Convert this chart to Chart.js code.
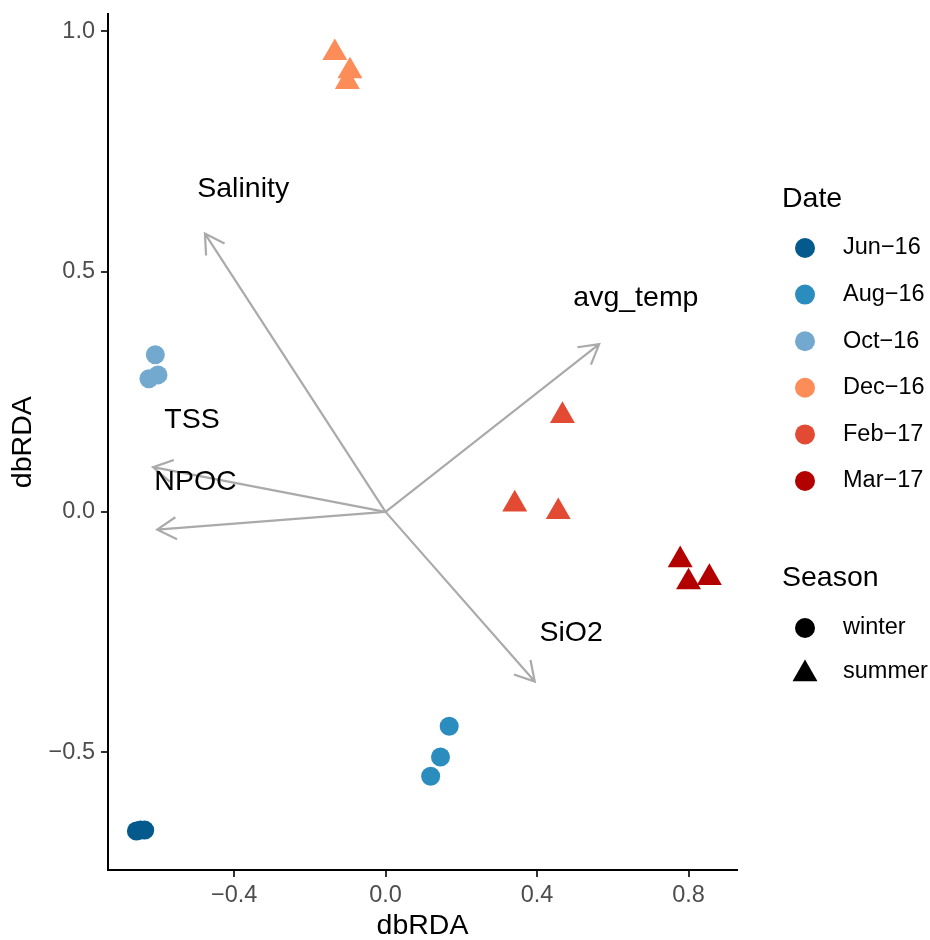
<!DOCTYPE html>
<html>
<head>
<meta charset="utf-8">
<script src="https://cdn.jsdelivr.net/npm/chart.js@4.4.0/dist/chart.umd.min.js"></script>
<style>
  body { margin: 0; background: #fff; }
  #wrap { width: 930px; height: 940px; }
</style>
</head>
<body>
<div id="wrap"><canvas id="rdaChart" width="930" height="940"></canvas></div>
<script>
// --- DATA ---

const dateLabels = ['Jun−16', 'Aug−16', 'Oct−16', 'Dec−16', 'Feb−17', 'Mar−17'];
const dateSeason = ['winter', 'winter', 'winter', 'summer', 'summer', 'summer'];
const dateColors = ['#045a8d', '#2b8cbe', '#74a9cf', '#fc8d59', '#e34a33', '#b30000'];

// site scores, one list per date
const scoreX = [
    [-0.658, -0.647, -0.636],
    [0.168, 0.145, 0.119],
    [-0.608, -0.601, -0.625],
    [-0.134, -0.094, -0.101],
    [0.467, 0.341, 0.456],
    [0.778, 0.800, 0.855]
];
const scoreY = [
    [-0.664, -0.662, -0.662],
    [-0.446, -0.510, -0.550],
    [0.327, 0.285, 0.277],
    [0.955, 0.917, 0.895],
    [0.200, 0.016, 0.000],
    [-0.100, -0.146, -0.137]
];

// environmental vectors (biplot arrows) and where their labels sit
const vectorNames = ['Salinity', 'avg_temp', 'TSS', 'NPOC', 'SiO2'];
const vectorX = [-0.477, 0.564, -0.614, -0.603, 0.394];
const vectorY = [0.579, 0.349, 0.093, -0.037, -0.353];
const labelX = [-0.376, 0.661, -0.511, -0.502, 0.490];
const labelY = [0.672, 0.444, 0.190, 0.062, -0.252];

const xTicks = [-0.4, 0.0, 0.4, 0.8];
const yTicks = [-0.5, 0.0, 0.5, 1.0];

// --- HELPERS ---

const fontFamily = '"Liberation Sans", Arial, Helvetica, sans-serif';

function fmtTick(v) {
    return v.toFixed(1).replace('-', '\u2212');
}

function pointStyleFor(season) {
    return season === 'summer' ? 'triangle' : 'circle';
}

function radiusFor(season) {
    return season === 'summer' ? 14.4 : 9.5;
}

// Arrows from the origin plus their text labels
const biplotArrows = {
    id: 'biplotArrows',
    beforeDatasetsDraw(chart) {
        const ctx = chart.ctx;
        const xs = chart.scales.x, ys = chart.scales.y;
        const x0 = xs.getPixelForValue(0), y0 = ys.getPixelForValue(0);
        const headLen = 22, headAng = Math.PI / 6;
        ctx.save();
        ctx.strokeStyle = '#aaaaaa';
        ctx.lineWidth = 2.2;
        ctx.lineCap = 'butt';
        vectorNames.forEach((name, i) => {
            const x1 = xs.getPixelForValue(vectorX[i]);
            const y1 = ys.getPixelForValue(vectorY[i]);
            const ang = Math.atan2(y1 - y0, x1 - x0);
            ctx.beginPath();
            ctx.moveTo(x0, y0);
            ctx.lineTo(x1, y1);
            ctx.moveTo(x1 - headLen * Math.cos(ang - headAng), y1 - headLen * Math.sin(ang - headAng));
            ctx.lineTo(x1, y1);
            ctx.lineTo(x1 - headLen * Math.cos(ang + headAng), y1 - headLen * Math.sin(ang + headAng));
            ctx.stroke();
        });
        ctx.fillStyle = '#000';
        ctx.font = '28.5px ' + fontFamily;
        ctx.textAlign = 'center';
        ctx.textBaseline = 'middle';
        vectorNames.forEach((name, i) => {
            ctx.fillText(name, xs.getPixelForValue(labelX[i]), ys.getPixelForValue(labelY[i]));
        });
        ctx.restore();
    }
};

// Two ggplot-style legend blocks on the right
const sideLegend = {
    id: 'sideLegend',
    afterDraw(chart) {
        const ctx = chart.ctx;
        const keyX = 805, textX = 843;
        ctx.save();
        ctx.textAlign = 'left';
        ctx.textBaseline = 'middle';

        ctx.fillStyle = '#000';
        ctx.font = '28.5px ' + fontFamily;
        ctx.fillText('Date', 782, 199);
        dateLabels.forEach((lab, i) => {
            const y = 248 + i * 46.6;
            ctx.fillStyle = dateColors[i];
            ctx.beginPath();
            ctx.arc(keyX, y, 10, 0, Math.PI * 2);
            ctx.fill();
            ctx.fillStyle = '#000';
            ctx.font = '23.5px ' + fontFamily;
            ctx.fillText(lab, textX, y);
        });

        ctx.font = '28.5px ' + fontFamily;
        ctx.fillText('Season', 782, 578);
        ctx.font = '23.5px ' + fontFamily;
        // winter
        ctx.beginPath();
        ctx.arc(keyX, 628, 10, 0, Math.PI * 2);
        ctx.fill();
        ctx.fillText('winter', textX, 628);
        // summer
        const r = 14.4, ty = 674;
        ctx.beginPath();
        ctx.moveTo(keyX, ty - r);
        ctx.lineTo(keyX + r * Math.sin(2 * Math.PI / 3), ty + r / 2);
        ctx.lineTo(keyX - r * Math.sin(2 * Math.PI / 3), ty + r / 2);
        ctx.closePath();
        ctx.fill();
        ctx.fillText('summer', textX, 672);
        ctx.restore();
    }
};

// --- CHART ---

const datasets = dateLabels.map((lab, i) => ({
    label: lab,
    data: scoreX[i].map((x, j) => ({ x: x, y: scoreY[i][j] })),
    pointStyle: pointStyleFor(dateSeason[i]),
    pointRadius: radiusFor(dateSeason[i]),
    pointHoverRadius: radiusFor(dateSeason[i]),
    backgroundColor: dateColors[i],
    borderColor: dateColors[i],
    borderWidth: 0
}));

const axisTitleFont = { size: 28.5, family: fontFamily, lineHeight: 1 };
const tickFont = { size: 23.5, family: fontFamily };

const ctx = document.getElementById('rdaChart').getContext('2d');
new Chart(ctx, {
    type: 'scatter',
    data: { datasets: datasets },
    options: {
        responsive: false,
        animation: false,
        layout: { padding: { top: 12, right: 193, left: 0, bottom: 0 } },
        plugins: {
            legend: { display: false },
            tooltip: { enabled: true }
        },
        scales: {
            x: {
                type: 'linear',
                min: -0.733,
                max: 0.928,
                afterBuildTicks: s => { s.ticks = xTicks.map(v => ({ value: v })); },
                afterFit: s => { s.height = 70; s.paddingLeft = 0; s.paddingRight = 0; },
                grid: { drawOnChartArea: false, drawTicks: true, tickLength: 7, color: '#333', lineWidth: 2 },
                border: { display: true, color: '#000', width: 2 },
                ticks: { color: '#4d4d4d', font: tickFont, padding: 4, callback: fmtTick },
                title: { display: true, text: 'dbRDA', color: '#000', font: axisTitleFont, padding: { top: 0, bottom: 0 } }
            },
            y: {
                type: 'linear',
                min: -0.745,
                max: 1.035,
                afterBuildTicks: s => { s.ticks = yTicks.map(v => ({ value: v })); },
                afterFit: s => { s.width = 108; s.paddingTop = 0; s.paddingBottom = 0; },
                grid: { drawOnChartArea: false, drawTicks: true, tickLength: 7, color: '#333', lineWidth: 2 },
                border: { display: true, color: '#000', width: 2 },
                ticks: { color: '#4d4d4d', font: tickFont, padding: 6, callback: fmtTick },
                title: { display: true, text: 'dbRDA', color: '#000', font: axisTitleFont, padding: { top: 9, bottom: 0 } }
            }
        }
    },
    plugins: [biplotArrows, sideLegend]
});
</script>
</body>
</html>
